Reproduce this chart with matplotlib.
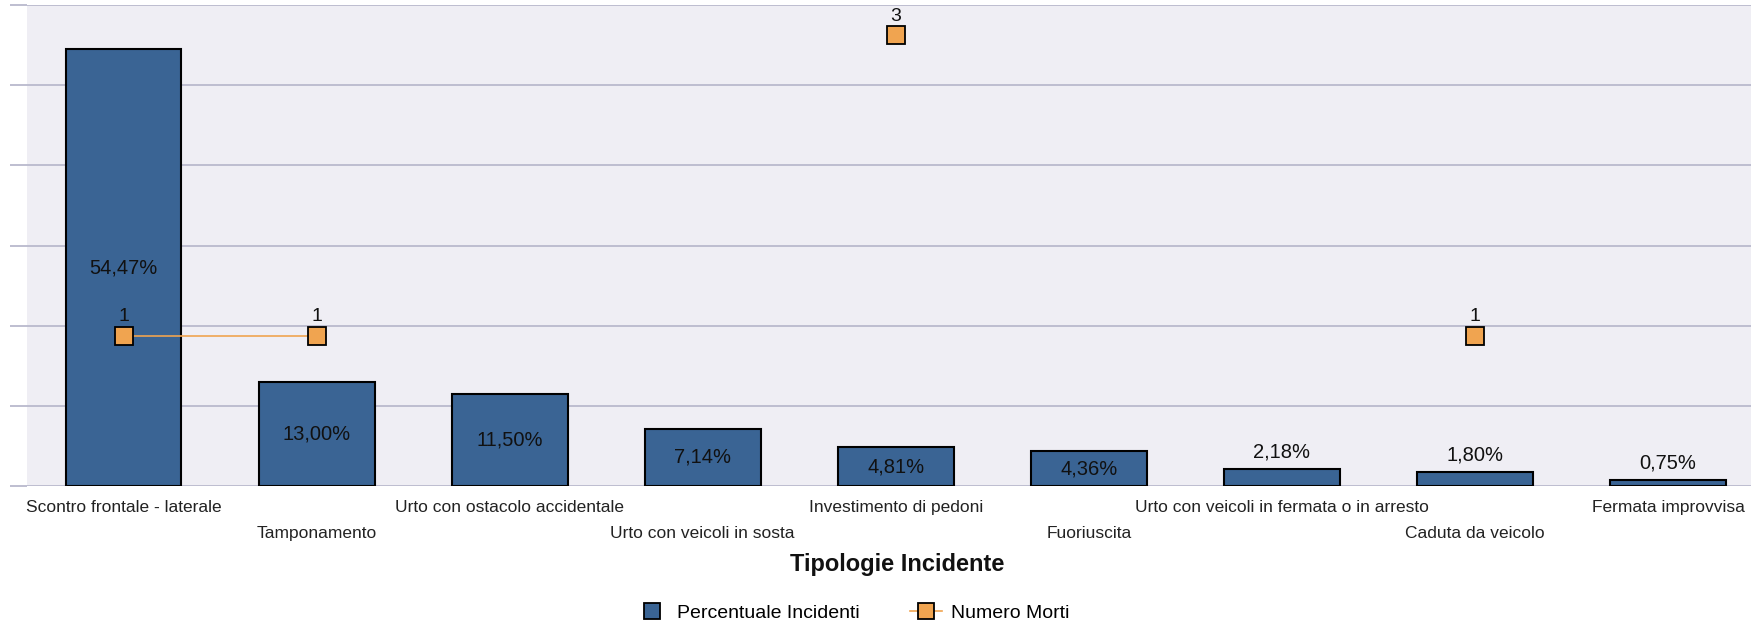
import numpy as np
import matplotlib
matplotlib.use("Agg")
import matplotlib.pyplot as plt
from matplotlib.lines import Line2D

plt.rcParams["font.family"] = ["Liberation Sans", "DejaVu Sans"]

categorie = ["Scontro frontale - laterale", "Tamponamento", "Urto con ostacolo accidentale",
             "Urto con veicoli in sosta", "Investimento di pedoni", "Fuoriuscita",
             "Urto con veicoli in fermata o in arresto", "Caduta da veicolo", "Fermata improvvisa"]
percentuali = [54.47, 13.00, 11.50, 7.14, 4.81, 4.36, 2.18, 1.80, 0.75]
morti = [1, 1, None, None, 3, None, None, 1, None]

blu = "#3a6494"
arancio = "#f0a450"
sfondo = "#efeef4"
griglia = "#b9b9cd"

fig = plt.figure(figsize=(17.51, 6.23), dpi=100)
ax = fig.add_axes([27 / 1751, 137 / 623, 1 - 27 / 1751, 481 / 623])
ax.set_facecolor(sfondo)
x = np.arange(len(categorie))

ax.bar(x, percentuali, width=0.6, color=blu, edgecolor="black", linewidth=1.5, zorder=2)
ax.set_ylim(0, 60)
ax.set_xlim(-0.5, 8.43)
ax.set_yticks(np.arange(0, 61, 10))
ax.set_yticklabels([])
ax.grid(axis="y", color=griglia, linewidth=1.3)
ax.set_axisbelow(True)
ax.tick_params(axis="y", length=12, width=1.3, color=griglia)
ax.tick_params(axis="x", length=0, pad=10)
ax.set_xticks(x)
ax.set_xticklabels(categorie, fontsize=12.5, color="#222222")
for i, lab in enumerate(ax.get_xticklabels()):
    if i % 2:
        lab.set_y(-0.054)
for s in ax.spines.values():
    s.set_visible(False)

# etichette percentuali
for xi, v in zip(x, percentuali):
    testo = f"{v:.2f}%".replace(".", ",")
    if v >= 4:
        ax.text(xi, v / 2, testo, ha="center", va="center", fontsize=14.5, color="#111111")
    else:
        ax.annotate(testo, (xi, v), xytext=(0, 12), textcoords="offset points",
                    ha="center", va="center", fontsize=14.5, color="#111111")

# numero morti sull'asse secondario
ax2 = ax.twinx()
m = np.array([np.nan if v is None else v for v in morti], dtype=float)
ax2.plot(x, m, color=arancio, linewidth=1.2, marker="s", markersize=13,
         markerfacecolor=arancio, markeredgecolor="black", markeredgewidth=1.3, zorder=3)
ax2.set_ylim(0, 3.2)
ax2.set_yticks([])
for s in ax2.spines.values():
    s.set_visible(False)
for xi, v in zip(x, morti):
    if v is not None:
        ax2.annotate(str(v), (xi, v), xytext=(0, 13.5), textcoords="offset points",
                     ha="center", va="center", fontsize=14, color="#111111")

fig.text(897 / 1751, 1 - 564 / 623, "Tipologie Incidente", ha="center", va="center",
         fontsize=17, fontweight="bold", color="#111111")

handles = [Line2D([0], [0], linestyle="none", marker="s", markersize=11,
                  markerfacecolor=blu, markeredgecolor="black", markeredgewidth=1.3),
           Line2D([0], [0], color=arancio, linewidth=1.2, marker="s", markersize=11,
                  markerfacecolor=arancio, markeredgecolor="black", markeredgewidth=1.3)]
fig.legend(handles, ["Percentuale Incidenti", "Numero Morti"], loc="center",
           bbox_to_anchor=(853 / 1751, 10 / 623), ncol=2, frameon=False, fontsize=14,
           handlelength=1.6, handletextpad=0.5, columnspacing=2.6)

fig.savefig("out.png", dpi=100)
